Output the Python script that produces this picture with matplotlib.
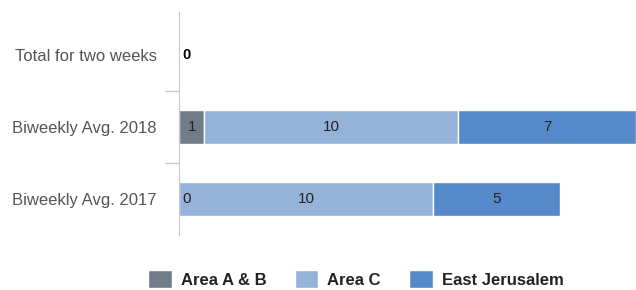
import numpy as np
import matplotlib.pyplot as plt

categories = ["Total for two weeks", "Biweekly Avg. 2018", "Biweekly Avg. 2017"]
series_names = ["Area A & B", "Area C", "East Jerusalem"]
area_ab = [0, 1, 0]
area_c = [0, 10, 10]
east_jlm = [0, 7, 5]
colors = ["#717c8b", "#95b2d9", "#5689c9"]

plt.rcParams['font.family'] = ['Liberation Sans', 'DejaVu Sans']

fig = plt.figure(figsize=(6.36, 2.90), dpi=100)
ax = fig.add_axes([179 / 636, 1 - 235 / 290, 1 - 179 / 636, 223 / 290])

y = np.arange(len(categories))
h = 0.48
left = np.zeros(len(categories))
for name, vals, col in zip(series_names, [area_ab, area_c, east_jlm], colors):
    vals = np.array(vals, dtype=float)
    ax.barh(y, vals, left=left, height=h, color=col, edgecolor="white",
            linewidth=1, label=name)
    for yi, (l, v) in enumerate(zip(left, vals)):
        if categories[yi] == "Total for two weeks":
            continue
        if v > 0:
            ax.text(l + v / 2, yi, f"{v:g}", ha="center", va="center",
                    fontsize=11, color="#222222")
        elif l == 0 and name == "Area A & B":
            ax.text(0.15, yi, "0", ha="left", va="center", fontsize=11,
                    color="#222222")
    left += vals

# total row: single bold label
ax.text(0.15, 0, f"{int(sum([area_ab[0], area_c[0], east_jlm[0]]))}",
        ha="left", va="center", fontsize=10.5, fontweight="bold", color="black")

ax.set_xlim(0, 18)
ax.set_ylim(2.5, -0.6)
ax.set_yticks(y)
ax.set_yticklabels(categories, fontsize=12, color="#555555")
ax.tick_params(axis="y", which="major", length=0, pad=16)
ax.set_yticks([0.5, 1.5], minor=True)
ax.tick_params(axis="y", which="minor", length=10, color="#c8c8c8", width=1)
ax.set_xticks([])
for s in ["top", "right", "bottom"]:
    ax.spines[s].set_visible(False)
ax.spines["left"].set_color("#c8c8c8")

handles, labels = ax.get_legend_handles_labels()
leg = fig.legend(handles, labels, loc="center", bbox_to_anchor=(356 / 636, 1 - 279 / 290),
                 ncol=3, frameon=False, handlelength=1.4, handleheight=1.3,
                 columnspacing=1.7, handletextpad=0.55, borderpad=0,
                 prop={"weight": "bold", "size": 12})
for t in leg.get_texts():
    t.set_color("#222222")

fig.savefig("out.png", dpi=100)
